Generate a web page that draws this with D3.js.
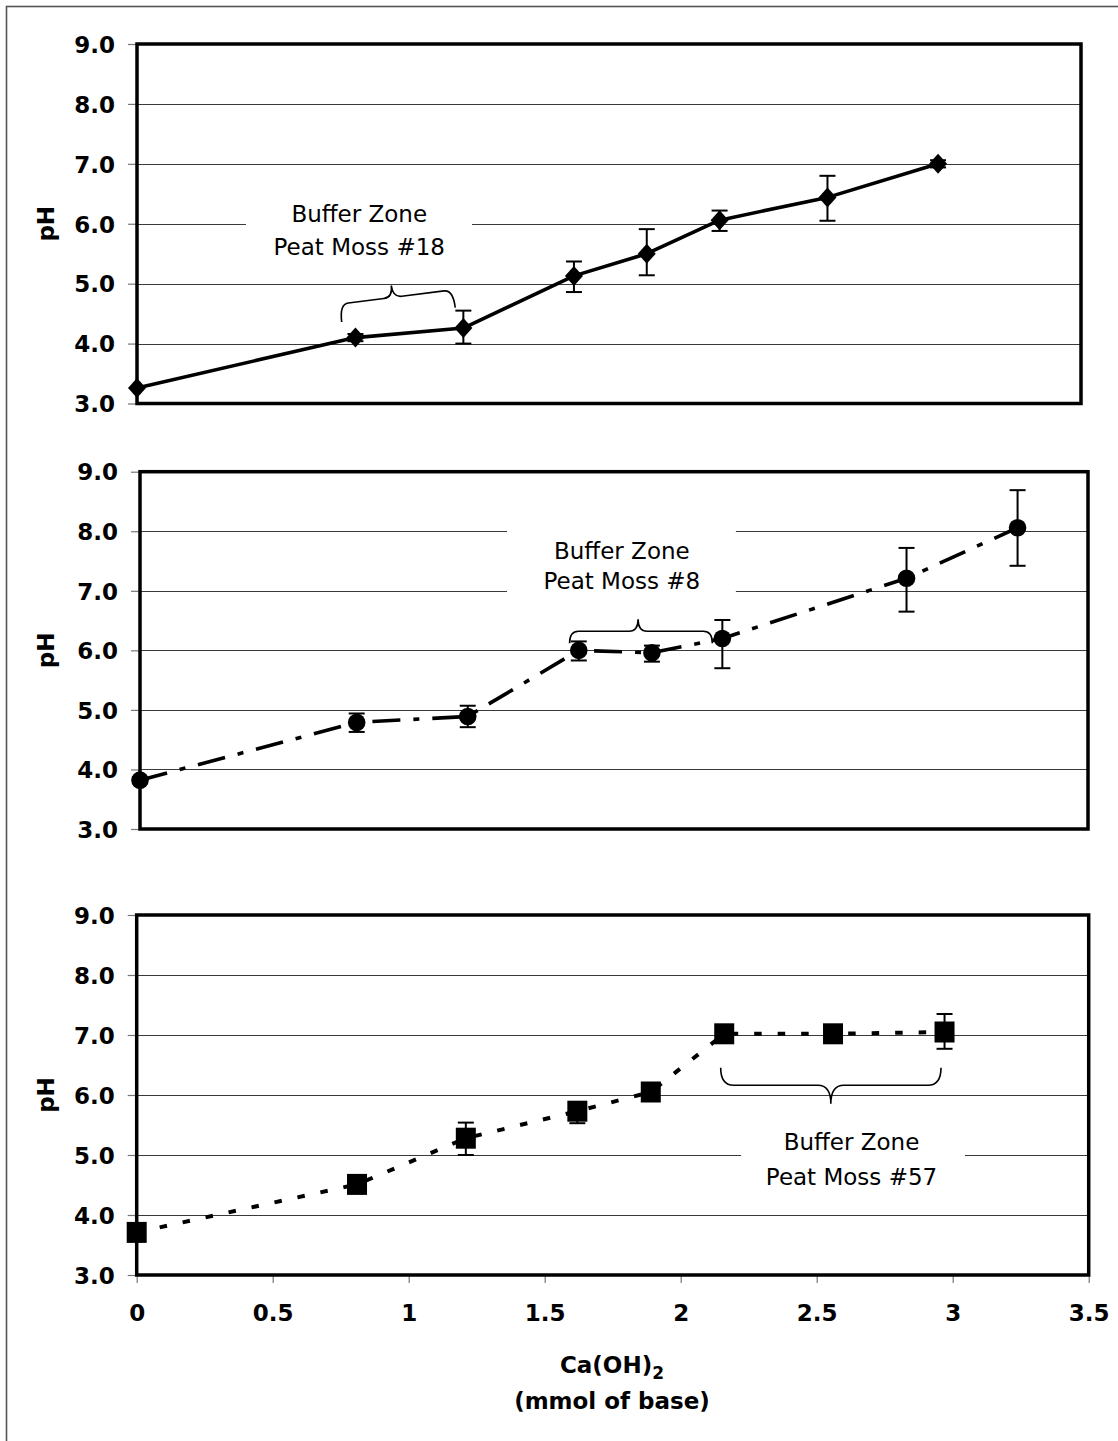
<!DOCTYPE html>
<html>
<head>
<meta charset="utf-8">
<script src="https://cdn.jsdelivr.net/npm/d3@7"></script>
<style>
  html, body { margin: 0; padding: 0; background: #fff; }
  svg { display: block; }
</style>
</head>
<body>
<svg id="chart" width="1118" height="1441"></svg>
<script>
// ---- Titration of peat moss with Ca(OH)2: mean pH with error bars ----

// Peat Moss #18
const x18  = [0, 0.81, 1.21, 1.62, 1.89, 2.16, 2.56, 2.97];
const ph18 = [3.26, 4.10, 4.26, 5.13, 5.50, 6.06, 6.44, 7.00];
const up18 = [0, 0.06, 0.29, 0.24, 0.41, 0.16, 0.36, 0.06];
const dn18 = [0, 0.06, 0.26, 0.27, 0.36, 0.18, 0.39, 0.06];

// Peat Moss #8
const x8  = [0, 0.80, 1.21, 1.62, 1.89, 2.15, 2.83, 3.24];
const ph8 = [3.82, 4.79, 4.89, 6.00, 5.96, 6.20, 7.21, 8.06];
const up8 = [0.05, 0.15, 0.18, 0.15, 0.12, 0.31, 0.51, 0.63];
const dn8 = [0.05, 0.16, 0.18, 0.17, 0.15, 0.50, 0.56, 0.64];

// Peat Moss #57
const x57  = [0, 0.81, 1.21, 1.62, 1.89, 2.16, 2.56, 2.97];
const ph57 = [3.71, 4.51, 5.28, 5.73, 6.05, 7.02, 7.02, 7.05];
const up57 = [0.05, 0.05, 0.26, 0.15, 0.05, 0.05, 0.05, 0.30];
const dn57 = [0.05, 0.10, 0.28, 0.20, 0.05, 0.05, 0.05, 0.28];

// Axis ticks and labels
const yTicks = [3, 4, 5, 6, 7, 8, 9];
const xTicks = [0, 0.5, 1, 1.5, 2, 2.5, 3, 3.5];
const yTitle = "pH";
const xTitleMain = "Ca(OH)";
const xTitleSub = "2";
const xTitleUnit = "(mmol of base)";

// Buffer-zone annotation texts
const note18 = ["Buffer Zone", "Peat Moss #18"];
const note8  = ["Buffer Zone", "Peat Moss #8"];
const note57 = ["Buffer Zone", "Peat Moss #57"];

// ---- layout ----
const FONT = "'DejaVu Sans', Verdana, sans-serif";
const svg = d3.select("#chart");

// outer figure border (left and top edges visible)
svg.append("rect")
  .attr("x", 6.5).attr("y", 6.5)
  .attr("width", 1300).attr("height", 1600)
  .attr("fill", "none").attr("stroke", "#555").attr("stroke-width", 1.6);

const panels = [
  {
    xs: x18, ys: ph18, up: up18, dn: dn18, marker: "diamond", dash: null,
    box: { left: 137, right: 1081, top: 44, bottom: 403.5 },
    note: note18,
    noteAt: { x: 0.824, y: [6.16, 5.61] },
    noteBg: { x0: 0.404, x1: 1.242, y0: 6.46, y1: 5.30 },
    brace: { x0: 0.759, y0: 4.36, x1: 1.18, y1: 4.60, hEnd: 18, hTip: 30, tip: 0.47, dir: -1, r: 9 },
    xAxis: false
  },
  {
    xs: x8, ys: ph8, up: up8, dn: dn8, marker: "circle", dash: "28,13,6,13",
    box: { left: 140, right: 1088, top: 471.7, bottom: 829 },
    note: note8,
    noteAt: { x: 1.779, y: [7.67, 7.17] },
    noteBg: { x0: 1.355, x1: 2.200, y0: 8.26, y1: 6.74 },
    brace: { x0: 1.586, y0: 6.12, x1: 2.113, y1: 6.12, hEnd: 12, hTip: 24, tip: 0.48, dir: -1, r: 9 },
    xAxis: false
  },
  {
    xs: x57, ys: ph57, up: up57, dn: dn57, marker: "square", dash: "7.5,16",
    box: { left: 136.7, right: 1088.7, top: 915, bottom: 1275 },
    note: note57,
    noteAt: { x: 2.628, y: [5.225, 4.64] },
    noteBg: { x0: 2.222, x1: 3.045, y0: 5.55, y1: 4.32 },
    brace: { x0: 2.147, y0: 6.455, x1: 2.957, y1: 6.455, hEnd: 17.5, hTip: 36, tip: 0.5, dir: 1, r: 13 },
    xAxis: true
  }
];

// brace path in local coords: ends at (0,0) and (w,0), arms toward dir*h
function bracePath(w, hEnd, hTip, tipFrac, dir, r) {
  const b = dir * hEnd, t = dir * hTip, tx = w * tipFrac;
  return `M0,0 Q0,${b} ${r},${b} L${tx - r},${b} Q${tx},${b} ${tx},${t} ` +
         `Q${tx},${b} ${tx + r},${b} L${w - r},${b} Q${w},${b} ${w},0`;
}

panels.forEach(p => {
  const B = p.box;
  const x = d3.scaleLinear().domain([0, 3.5]).range([B.left, B.right]);
  const y = d3.scaleLinear().domain([3, 9]).range([B.bottom, B.top]);
  const g = svg.append("g");

  // horizontal gridlines
  g.append("g").selectAll("line")
    .data(yTicks.filter(v => v > 3 && v < 9))
    .join("line")
    .attr("x1", B.left).attr("x2", B.right)
    .attr("y1", d => Math.round(y(d)) + 0.5).attr("y2", d => Math.round(y(d)) + 0.5)
    .attr("stroke", "#3a3a3a").attr("stroke-width", 1.1);

  // white backing of the annotation text
  g.append("rect")
    .attr("x", x(p.noteBg.x0)).attr("y", y(p.noteBg.y0))
    .attr("width", x(p.noteBg.x1) - x(p.noteBg.x0))
    .attr("height", y(p.noteBg.y1) - y(p.noteBg.y0))
    .attr("fill", "#fff");

  // y axis with outside ticks
  const yAxis = d3.axisLeft(y).tickValues(yTicks).tickSize(9).tickPadding(13)
    .tickFormat(d3.format(".1f"));
  const ya = g.append("g").attr("transform", `translate(${B.left},0)`).call(yAxis);
  ya.select(".domain").remove();
  ya.selectAll(".tick line").attr("stroke", "#777").attr("stroke-width", 1.2);
  ya.selectAll(".tick text")
    .attr("font-family", FONT).attr("font-size", 23).attr("font-weight", "bold")
    .attr("fill", "#000").attr("dy", "0.36em");

  // x axis only on the lowest panel
  if (p.xAxis) {
    const xAxis = d3.axisBottom(x).tickValues(xTicks).tickSize(8).tickPadding(22)
      .tickFormat(d => String(d));
    const xa = g.append("g").attr("transform", `translate(0,${B.bottom})`).call(xAxis);
    xa.select(".domain").remove();
    xa.selectAll(".tick line").attr("stroke", "#777").attr("stroke-width", 1.2);
    xa.selectAll(".tick text")
      .attr("font-family", FONT).attr("font-size", 23).attr("font-weight", "bold")
      .attr("fill", "#000");
  }

  // plot frame
  g.append("rect")
    .attr("x", B.left).attr("y", B.top)
    .attr("width", B.right - B.left).attr("height", B.bottom - B.top)
    .attr("fill", "none").attr("stroke", "#000").attr("stroke-width", 3.5);

  // y title
  g.append("text")
    .attr("transform", `translate(46,${(B.top + B.bottom) / 2}) rotate(-90)`)
    .attr("text-anchor", "middle").attr("dy", "0.36em")
    .attr("font-family", FONT).attr("font-size", 23).attr("font-weight", "bold")
    .text(yTitle);

  // annotation text
  g.append("g").selectAll("text")
    .data(p.note)
    .join("text")
    .attr("x", x(p.noteAt.x)).attr("y", (d, i) => y(p.noteAt.y[i]))
    .attr("dy", "0.36em").attr("text-anchor", "middle")
    .attr("font-family", FONT).attr("font-size", 23).attr("fill", "#000")
    .text(d => d);

  // brace marking the buffer zone
  const br = p.brace;
  const ax = x(br.x0), ay = y(br.y0), bx = x(br.x1), by = y(br.y1);
  const w = Math.hypot(bx - ax, by - ay);
  const ang = Math.atan2(by - ay, bx - ax) * 180 / Math.PI;
  g.append("path")
    .attr("transform", `translate(${ax},${ay}) rotate(${ang})`)
    .attr("d", bracePath(w, br.hEnd, br.hTip, br.tip, br.dir, br.r))
    .attr("fill", "none").attr("stroke", "#000").attr("stroke-width", 1.6);

  const pts = p.xs.map((v, i) => ({ x: v, y: p.ys[i], up: p.up[i], dn: p.dn[i] }));

  // connecting line
  const line = d3.line().x(d => x(d.x)).y(d => y(d.y));
  g.append("path")
    .datum(pts)
    .attr("d", line)
    .attr("fill", "none").attr("stroke", "#000")
    .attr("stroke-width", p.marker === "circle" ? 3.6 : (p.marker === "square" ? 4 : 3.6))
    .attr("stroke-linejoin", "round")
    .attr("stroke-dasharray", p.dash);

  // error bars
  const eb = g.append("g").attr("stroke", "#000").attr("stroke-width", 2);
  pts.filter(d => d.up > 0 || d.dn > 0).forEach(d => {
    const cx = x(d.x);
    eb.append("line").attr("x1", cx).attr("x2", cx)
      .attr("y1", y(d.y + d.up)).attr("y2", y(d.y - d.dn));
    eb.append("line").attr("x1", cx - 8).attr("x2", cx + 8)
      .attr("y1", y(d.y + d.up)).attr("y2", y(d.y + d.up));
    eb.append("line").attr("x1", cx - 8).attr("x2", cx + 8)
      .attr("y1", y(d.y - d.dn)).attr("y2", y(d.y - d.dn));
  });

  // markers
  const mk = g.append("g").attr("fill", "#000");
  pts.forEach(d => {
    const cx = x(d.x), cy = y(d.y);
    if (p.marker === "diamond") {
      mk.append("path").attr("d", `M${cx},${cy - 10}L${cx + 9},${cy}L${cx},${cy + 10}L${cx - 9},${cy}Z`);
    } else if (p.marker === "circle") {
      mk.append("circle").attr("cx", cx).attr("cy", cy).attr("r", 8.8);
    } else {
      mk.append("rect").attr("x", cx - 10).attr("y", cy - 10.5).attr("width", 20).attr("height", 21);
    }
  });
});

// x-axis title under the lowest panel
const xt = svg.append("text")
  .attr("x", 612).attr("y", 1365).attr("dy", "0.36em")
  .attr("text-anchor", "middle")
  .attr("font-family", FONT).attr("font-size", 23).attr("font-weight", "bold");
xt.append("tspan").text(xTitleMain);
xt.append("tspan").attr("font-size", 17).attr("dy", 6).text(xTitleSub);

svg.append("text")
  .attr("x", 612).attr("y", 1401).attr("dy", "0.36em")
  .attr("text-anchor", "middle")
  .attr("font-family", FONT).attr("font-size", 23).attr("font-weight", "bold")
  .text(xTitleUnit);
</script>
</body>
</html>
